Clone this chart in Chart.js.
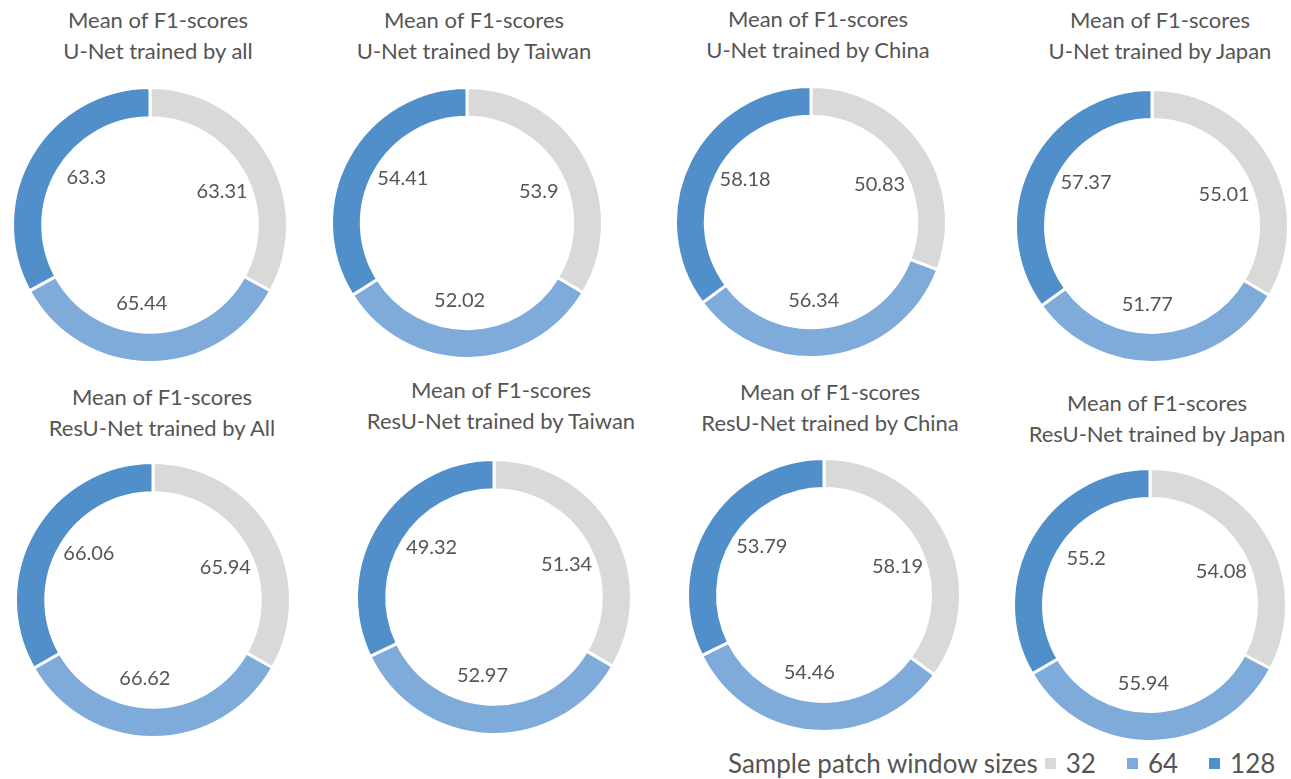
<!DOCTYPE html>
<html>
<head>
<meta charset="utf-8">
<script src="https://cdn.jsdelivr.net/npm/chart.js@4"></script>
<style>
  body { margin: 0; background: #fff; width: 1291px; height: 779px; position: relative; overflow: hidden; font-family: Lato, "Open Sans", sans-serif; color: #555; }
  .title { position: absolute; width: 360px; text-align: center; font-size: 22px; line-height: 31px; white-space: nowrap; }
  canvas { position: absolute; }
  #legend { position: absolute; left: 728px; top: 747px; font-size: 26px; white-space: nowrap; }
  #legend span.box { display: inline-block; width: 11px; height: 11px; margin: 0 10px 0 7px; vertical-align: 4px; }
  #legend span.item { margin-right: 24px; }
</style>
</head>
<body>
<div id="legend"></div>
<script>
// patch sizes (categories)
const windowSizes = ["32", "64", "128"];
const colors = ["#D9D9D9", "#7FABDA", "#508FCA"];

// chart titles (two lines)
const titleTop = ["Mean of F1-scores", "Mean of F1-scores", "Mean of F1-scores", "Mean of F1-scores",
  "Mean of F1-scores", "Mean of F1-scores", "Mean of F1-scores", "Mean of F1-scores"];
const titleBottom = ["U-Net trained by all", "U-Net trained by Taiwan", "U-Net trained by China", "U-Net trained by Japan",
  "ResU-Net trained by All", "ResU-Net trained by Taiwan", "ResU-Net trained by China", "ResU-Net trained by Japan"];

// mean F1 values, order 32 / 64 / 128
const unetAll = [63.31, 65.44, 63.3];
const unetTaiwan = [53.9, 52.02, 54.41];
const unetChina = [50.83, 56.34, 58.18];
const unetJapan = [55.01, 51.77, 57.37];
const resunetAll = [65.94, 66.62, 66.06];
const resunetTaiwan = [51.34, 52.97, 49.32];
const resunetChina = [58.19, 54.46, 53.79];
const resunetJapan = [54.08, 55.94, 55.2];

const allValues = [unetAll, unetTaiwan, unetChina, unetJapan, resunetAll, resunetTaiwan, resunetChina, resunetJapan];

// layout: donut center x/y, outer radius, title center x, title top y
const layout = [
  { cx: 150, cy: 225, r: 139, tx: 158, ty: 4 },
  { cx: 467, cy: 223, r: 137, tx: 474, ty: 4 },
  { cx: 811, cy: 222, r: 137, tx: 818, ty: 3 },
  { cx: 1152, cy: 226, r: 138, tx: 1160, ty: 4 },
  { cx: 153, cy: 600, r: 139, tx: 162, ty: 381 },
  { cx: 494, cy: 597, r: 139, tx: 501, ty: 374 },
  { cx: 824, cy: 595, r: 138, tx: 830, ty: 376 },
  { cx: 1150, cy: 605, r: 138, tx: 1157, ty: 387 }
];

// labels in the hole, near mid angle of each arc
const innerLabels = {
  id: "innerLabels",
  afterDatasetsDraw(chart) {
    const ctx = chart.ctx;
    const meta = chart.getDatasetMeta(0);
    ctx.save();
    ctx.font = "20px Lato, 'Open Sans', sans-serif";
    ctx.fillStyle = "#555555";
    ctx.textAlign = "center";
    ctx.textBaseline = "middle";
    meta.data.forEach((arc, i) => {
      const p = arc.getProps(["x", "y", "startAngle", "endAngle", "innerRadius"], true);
      const mid = (p.startAngle + p.endAngle) / 2 + 6 * Math.PI / 180;
      const d = p.innerRadius * 0.74;
      ctx.fillText(chart.data.datasets[0].data[i], p.x + Math.cos(mid) * d, p.y + Math.sin(mid) * d);
    });
    ctx.restore();
  }
};

allValues.forEach((vals, k) => {
  const L = layout[k];
  const t = document.createElement("div");
  t.className = "title";
  t.style.left = (L.tx - 180) + "px";
  t.style.top = L.ty + "px";
  t.innerHTML = titleTop[k] + "<br>" + titleBottom[k];
  document.body.appendChild(t);

  const size = 2 * L.r + 4;
  const c = document.createElement("canvas");
  c.width = size;
  c.height = size;
  c.style.left = (L.cx - size / 2) + "px";
  c.style.top = (L.cy - size / 2) + "px";
  document.body.appendChild(c);

  new Chart(c, {
    type: "doughnut",
    data: {
      labels: windowSizes,
      datasets: [{
        data: vals,
        backgroundColor: colors,
        borderColor: "#ffffff",
        borderWidth: 3
      }]
    },
    options: {
      responsive: false,
      animation: false,
      cutout: "78%",
      layout: { padding: 2 },
      plugins: { legend: { display: false }, tooltip: { enabled: false } }
    },
    plugins: [innerLabels]
  });
});

// legend
const legend = document.getElementById("legend");
let html = "Sample patch window sizes";
windowSizes.forEach((s, i) => {
  html += '<span class="box" style="background:' + colors[i] + '"></span><span class="item">' + s + "</span>";
});
legend.innerHTML = html;
</script>
</body>
</html>
